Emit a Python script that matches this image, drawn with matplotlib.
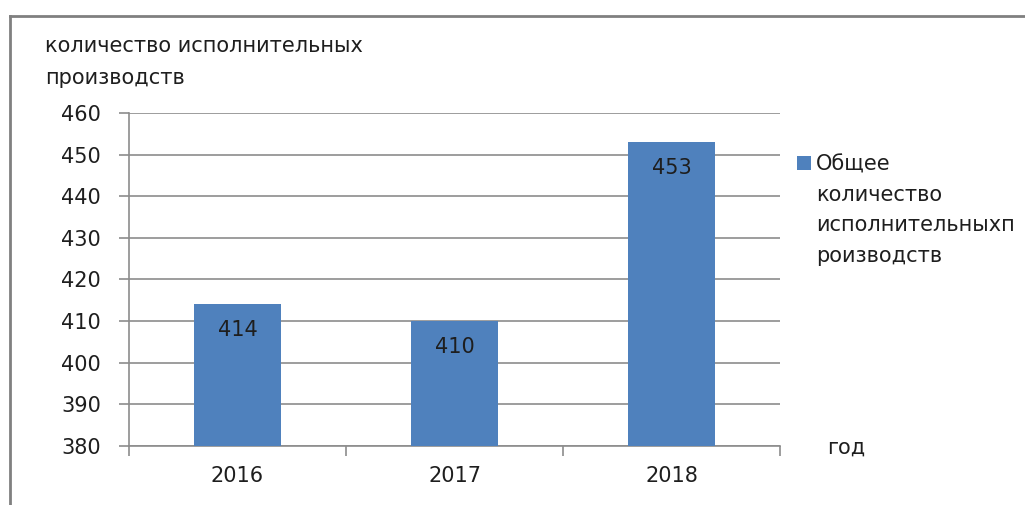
import matplotlib
matplotlib.use("Agg")
import matplotlib.pyplot as plt
import matplotlib.transforms as mtransforms
from matplotlib.lines import Line2D
from matplotlib.patches import Rectangle

years = ["2016", "2017", "2018"]
values = [414, 410, 453]
series_name = "Общее\nколичество\nисполнительныхп\nроизводств"
y_title = "количество исполнительных\nпроизводств"
x_title = "год"
y_ticks = [380, 390, 400, 410, 420, 430, 440, 450, 460]

W, H = 1025, 505
fig = plt.figure(figsize=(W / 100, H / 100), dpi=100)
plt.rcParams['font.family'] = ['DejaVu Sans']
FS = 15
TXT = "#1e1e1e"

# plot area in pixels
L, R, T, B = 129, 780, 113, 446
ax = fig.add_axes([L / W, 1 - B / H, (R - L) / W, (B - T) / H])

bar_color = "#4F81BD"
grid_color = "#8C8C8C"
x = list(range(len(years)))
ax.bar(x, [v - 380 for v in values], bottom=380, width=0.4, color=bar_color, zorder=3)
ax.set_xlim(-0.5, len(years) - 0.5)
ax.set_ylim(380, 460)
ax.set_yticks(y_ticks)
ax.set_yticklabels([str(t) for t in y_ticks], fontsize=FS, color=TXT)
ax.yaxis.grid(True, color=grid_color, linewidth=1.2, zorder=0)
ax.set_axisbelow(True)

# x ticks at category boundaries, labels at centers
ax.set_xticks([-0.5, 0.5, 1.5, 2.5])
ax.set_xticklabels([])
ax.tick_params(axis='x', direction='out', length=7, width=1.2, color=grid_color)
ax.tick_params(axis='y', direction='out', length=7, width=1.2, color=grid_color, pad=13)
off = mtransforms.ScaledTranslation(0, -30 / 100, fig.dpi_scale_trans)
for i, yr in enumerate(years):
    ax.text(i, 380, yr, transform=ax.transData + off, ha='center', va='center',
            fontsize=FS, color=TXT)

for s in ["top", "right"]:
    ax.spines[s].set_visible(False)
for s in ["left", "bottom"]:
    ax.spines[s].set_color(grid_color)
    ax.spines[s].set_linewidth(1.2)

# data labels inside bars
for i, v in enumerate(values):
    ax.annotate(str(v), (i, v), xytext=(0, -26), textcoords='offset pixels',
                ha='center', va='center', fontsize=FS, color=TXT, zorder=4)

# titles
fig.text(45 / W, 1 - 62 / H, y_title, ha='left', va='center', fontsize=FS,
         color=TXT, linespacing=1.75)
fig.text(827 / W, 1 - 448 / H, x_title, ha='left', va='center', fontsize=FS, color=TXT)

# legend
fig.patches.append(Rectangle((797 / W, 1 - 170 / H), 14 / W, 14 / H, transform=fig.transFigure,
                             facecolor=bar_color, edgecolor='none'))
fig.text(816 / W, 1 - 210 / H, series_name, ha='left', va='center', fontsize=FS,
         color=TXT, linespacing=1.65)

# outer chart border (top and left visible)
fig.add_artist(Line2D([9.5 / W, 1], [1 - 15.5 / H, 1 - 15.5 / H], transform=fig.transFigure,
                      color="#808080", linewidth=2))
fig.add_artist(Line2D([9.5 / W, 9.5 / W], [0, 1 - 15.5 / H], transform=fig.transFigure,
                      color="#808080", linewidth=2))

fig.savefig("out.png", dpi=100)
